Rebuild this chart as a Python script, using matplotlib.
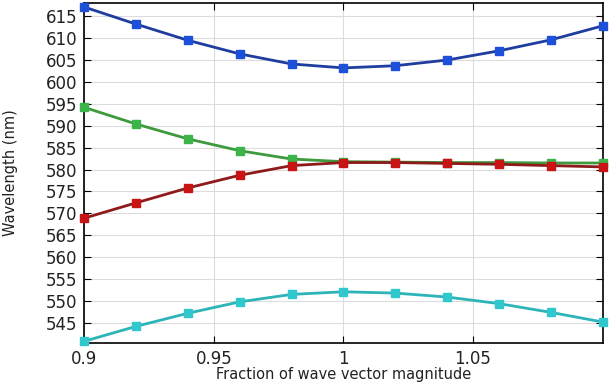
import matplotlib
matplotlib.use('Agg')
import matplotlib.pyplot as plt

# data
fraction = [0.90, 0.92, 0.94, 0.96, 0.98, 1.00, 1.02, 1.04, 1.06, 1.08, 1.10]
mode_blue = [617.1, 613.2, 609.5, 606.4, 604.1, 603.2, 603.7, 605.0, 607.1, 609.6, 612.8]
mode_green = [594.2, 590.4, 587.0, 584.3, 582.4, 581.8, 581.7, 581.6, 581.6, 581.5, 581.5]
mode_red = [568.9, 572.4, 575.8, 578.7, 580.9, 581.6, 581.6, 581.4, 581.2, 580.9, 580.6]
mode_cyan = [540.8, 544.2, 547.2, 549.8, 551.5, 552.1, 551.8, 550.9, 549.4, 547.4, 545.2]

series = [
    (mode_blue, '#1f3d9e', '#1e4fd8'),
    (mode_green, '#3d9a3d', '#3cb44a'),
    (mode_red, '#8e1a1a', '#c81414'),
    (mode_cyan, '#2cb4b8', '#30c8cc'),
]

fig = plt.figure(figsize=(6.1, 3.85), dpi=100)
ax = fig.add_axes([0.138, 0.109, 0.850, 0.883])

for vals, line_c, mark_c in series:
    ax.plot(fraction, vals, color=line_c, lw=2, marker='s', ms=6,
            markerfacecolor=mark_c, markeredgecolor=mark_c, clip_on=False, zorder=3)

ax.set_xlim(0.9, 1.1)
ax.set_ylim(540.4, 618)
ax.set_xticks([0.9, 0.95, 1.0, 1.05])
ax.set_xticklabels(['0.9', '0.95', '1', '1.05'])
ax.set_yticks(range(545, 616, 5))
ax.grid(True, color='#dcdcdc', lw=0.8)
ax.set_axisbelow(True)
ax.tick_params(direction='in', top=True, right=True, length=5, labelsize=12,
               colors='black', labelcolor='#222222', pad=5)

for s in ax.spines.values():
    s.set_linewidth(1.2)

ax.set_xlabel('Fraction of wave vector magnitude', fontsize=10.5, color='#222222')
ax.set_ylabel('Wavelength (nm)', fontsize=10.5, color='#222222')
ax.xaxis.set_label_coords(0.5, -0.07)
ax.yaxis.set_label_coords(-0.128, 0.5)

plt.savefig('out.png', dpi=100)
